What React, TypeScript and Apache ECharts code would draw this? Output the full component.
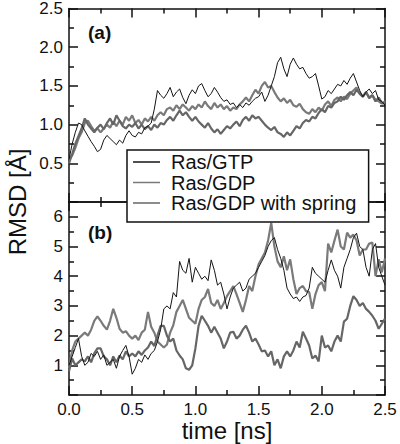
import React, { useEffect, useRef } from "react";
import * as echarts from "echarts";

// sampling step of the trajectories (ns)
const DT = 0.025;

// Panel (a) RMSD [Å]
const gtpA = [
  0.55, 0.75, 0.9, 1.02, 1.0, 0.92, 0.85, 0.78, 0.72, 0.65,
  0.68, 0.8, 0.86, 0.82, 0.78, 0.74, 0.8, 0.76, 0.86, 0.92,
  0.86, 0.84, 0.9, 0.88, 0.96, 0.98, 1.02, 1.2, 1.44, 1.38,
  1.34, 1.4, 1.48, 1.36, 1.42, 1.46, 1.35, 1.27, 1.38, 1.45,
  1.4, 1.5, 1.53, 1.44, 1.36, 1.4, 1.48, 1.42, 1.35, 1.3,
  1.32, 1.26, 1.28, 1.22, 1.26, 1.22, 1.28, 1.25, 1.3, 1.34,
  1.36, 1.42, 1.3, 1.38, 1.5, 1.62, 1.8, 1.87, 1.72, 1.62,
  1.78, 1.86, 1.78, 1.72, 1.74, 1.66, 1.6, 1.62, 1.66, 1.5,
  1.33, 1.36, 1.44, 1.4, 1.46, 1.52, 1.5, 1.57, 1.52, 1.6,
  1.66, 1.55, 1.44, 1.36, 1.42, 1.46, 1.4, 1.44, 1.32, 1.3,
  1.25,
];
const gdpA = [
  0.55, 0.6, 0.7, 0.82, 0.9, 1.02, 1.05, 0.98, 0.92, 0.95,
  0.9, 0.95, 1.0, 0.96, 1.04, 0.98, 1.05, 1.0, 1.1, 1.05,
  1.12, 1.02, 1.06, 1.0, 1.08, 1.04, 1.1, 1.05, 1.12, 1.16,
  1.12, 1.2, 1.22, 1.18, 1.25, 1.2, 1.26, 1.22, 1.18, 1.24,
  1.2, 1.26, 1.22, 1.3, 1.24, 1.2, 1.28, 1.22, 1.26, 1.2,
  1.24, 1.18, 1.22, 1.2, 1.26, 1.3, 1.35, 1.3, 1.38, 1.45,
  1.4, 1.5, 1.55, 1.48, 1.5, 1.42, 1.35, 1.3, 1.34, 1.28,
  1.32, 1.25, 1.23, 1.27, 1.2, 1.16, 1.14, 1.2, 1.16, 1.22,
  1.18, 1.26, 1.3, 1.24, 1.32, 1.35, 1.3, 1.36, 1.33, 1.4,
  1.44, 1.48, 1.4, 1.36, 1.42, 1.35, 1.38, 1.32, 1.3, 1.27,
  1.3,
];
const springA = [
  0.5, 0.62, 0.75, 0.85, 0.95, 1.08, 1.0, 0.95, 0.9, 0.96,
  1.0, 0.94, 1.02, 1.08, 1.0, 1.12, 1.05, 0.98, 0.95, 1.0,
  0.97, 1.02, 0.95, 1.0, 0.94, 0.98, 0.93, 1.0, 0.96, 1.02,
  1.0, 1.06, 1.1, 1.05, 1.12, 1.18, 1.12, 1.16, 1.1, 1.05,
  1.1, 1.04, 1.0, 0.96, 1.02, 0.95, 0.9, 0.94, 0.88, 0.93,
  0.98, 0.95, 1.0, 1.04, 0.98, 1.06, 1.1, 1.05, 1.12, 1.08,
  1.1, 1.05, 1.0, 0.96, 0.93, 0.97, 0.9, 0.88, 0.84, 0.9,
  0.86, 0.92, 0.98, 0.95, 1.02, 1.06, 1.04, 1.1, 1.08, 1.15,
  1.2, 1.16, 1.24, 1.22, 1.28, 1.3, 1.36, 1.32, 1.38, 1.42,
  1.38, 1.45, 1.4, 1.36, 1.42, 1.34, 1.38, 1.3, 1.35, 1.28,
  1.27,
];

// Panel (b) RMSD [Å]
const gtpB = [
  1.0, 1.3, 1.6, 1.9, 1.3, 1.0, 1.1, 1.4, 1.3, 1.47,
  1.2, 1.35, 1.0, 1.1, 1.2, 0.9, 1.3, 1.5, 1.67, 1.3,
  0.7, 0.9, 1.2, 1.1, 1.35, 1.2, 1.4, 1.5, 1.8, 2.2,
  2.9, 3.0, 2.9, 3.45, 3.3, 4.5, 4.2, 4.1, 4.6, 3.8,
  4.3, 4.1, 3.9, 4.0, 3.85, 4.55, 4.2, 3.7, 3.8, 3.4,
  2.9, 3.3, 3.6, 3.7, 3.8, 3.5, 3.6, 3.9, 4.0, 4.1,
  4.3, 4.5, 4.7, 5.0, 5.2, 5.3, 4.9, 4.6, 4.2, 3.6,
  3.4, 3.25, 3.3, 3.15, 3.3, 3.35, 3.6, 4.3, 4.1, 4.0,
  3.9, 3.8, 4.2, 4.55, 4.2, 4.0, 3.6, 4.3, 4.6, 4.9,
  5.3, 5.45, 5.0, 4.9, 4.3, 4.0, 4.9, 5.1, 4.3, 4.0,
  3.7,
];
const gdpB = [
  0.9, 1.5, 1.8, 1.9, 2.0, 2.1, 2.0, 2.2, 2.5, 2.65,
  2.5, 2.33, 2.2, 2.5, 2.9, 2.6, 2.23, 2.1, 2.15, 2.0,
  1.9, 2.0, 1.85, 2.1, 2.2, 2.8, 2.3, 2.1, 1.8, 1.7,
  1.6, 1.7, 2.1, 2.35, 2.8, 3.0, 3.2, 2.9, 2.6, 2.5,
  2.4, 2.9, 3.2, 3.3, 3.57, 3.1, 3.0, 3.2, 2.9, 3.1,
  3.33, 3.5, 3.67, 3.4, 3.1, 2.8, 3.2, 3.67, 3.5, 4.0,
  4.4, 4.6, 4.8, 5.2, 5.8, 5.0, 4.5, 4.3, 4.67, 4.2,
  4.57, 3.9, 3.4, 3.6, 3.67, 3.5, 3.47, 2.9, 3.4, 3.7,
  3.8, 3.5, 5.1, 4.8, 5.2, 5.57, 5.0, 4.9, 5.47, 5.3,
  5.4, 5.2, 4.7, 4.9, 4.9, 5.1, 5.13, 4.0, 4.57, 4.13,
  4.6,
];
const springB = [
  0.8, 1.23, 1.0, 1.1, 1.2, 1.13, 1.3, 1.1, 1.4, 1.57,
  1.57, 1.3, 1.2, 1.0, 1.3, 1.1, 1.33, 1.2, 1.47, 1.3,
  1.4, 1.3, 1.47, 1.35, 1.5, 1.6, 1.8, 1.65, 2.0, 2.33,
  2.33, 2.0, 1.8, 1.9, 1.5, 1.33, 1.2, 0.9, 0.85, 1.0,
  1.57, 2.33, 2.67, 2.5, 2.33, 2.1, 2.3, 2.1, 1.9, 1.57,
  1.8, 2.1, 2.13, 1.9, 2.0, 2.2, 2.33, 2.1, 1.8, 1.9,
  1.7, 1.47, 1.5, 1.3, 1.47, 1.0, 1.2, 0.9, 1.3, 1.47,
  1.3, 1.5, 1.8, 1.6, 2.13, 1.9, 1.67, 1.23, 1.33, 1.13,
  2.0, 1.6, 1.67, 1.47, 1.8, 2.0, 1.8, 2.47, 2.57, 3.0,
  3.33, 3.2, 3.0, 3.1, 2.9, 2.8, 2.67, 2.5, 2.23, 2.4,
  2.57,
];

const SERIES_NAMES = ["Ras/GTP", "Ras/GDP", "Ras/GDP with spring"];
const X_TICKS = [0, 0.5, 1.0, 1.5, 2.0, 2.5];

const FONT = "'Liberation Sans', Arial, Helvetica, sans-serif";
const INK = "#111";
const COL_GTP = "#141414";
const COL_GDP = "#7a7a7a";
const COL_SPRING = "#666666";

const pairs = (vals: number[]) => vals.map((v, i) => [+(i * DT).toFixed(3), v]);

export default function App() {
  const ref = useRef<HTMLDivElement>(null);
  useEffect(() => {
    if (!ref.current) return;
    const chart = echarts.init(ref.current, undefined, { renderer: "svg" });
    const axisLine = { show: true, onZero: false, lineStyle: { color: INK, width: 1.5 } };
    const tick = { show: true, inside: true, length: 9, lineStyle: { color: INK, width: 1.5 } };
    const minor = { show: true, splitNumber: 2, length: 5, lineStyle: { color: INK, width: 1.5 } };
    const xBase = {
      type: "value" as const,
      min: X_TICKS[0],
      max: X_TICKS[X_TICKS.length - 1],
      interval: 0.5,
      axisLine,
      axisTick: tick,
      minorTick: minor,
      splitLine: { show: false },
    };
    const yBase = (max: number, interval: number) => ({
      type: "value" as const,
      min: 0,
      max,
      interval,
      axisLine,
      axisTick: tick,
      minorTick: minor,
      splitLine: { show: false },
    });
    const tickLabel = { fontSize: 17, fontFamily: FONT, color: INK };
    const mk = (name: string, data: number[], gi: number, color: string, width: number, z: number) => ({
      name,
      type: "line",
      xAxisIndex: gi === 0 ? 0 : 2,
      yAxisIndex: gi === 0 ? 0 : 2,
      data: pairs(data),
      symbol: "none",
      z,
      lineStyle: { color, width },
      itemStyle: { color },
    });

    chart.setOption({
      animation: false,
      backgroundColor: "#fff",
      grid: [
        { left: 69, top: 8, width: 316, height: 194 },
        { left: 69, top: 202, width: 316, height: 193 },
      ],
      xAxis: [
        { ...xBase, gridIndex: 0, position: "bottom", axisLabel: { show: false } },
        { ...xBase, gridIndex: 0, position: "top", axisLabel: { show: false } },
        {
          ...xBase,
          gridIndex: 1,
          position: "bottom",
          axisLabel: { ...tickLabel, margin: 6, formatter: (v: number) => v.toFixed(1) },
          name: "time [ns]",
          nameLocation: "middle",
          nameGap: 23,
          nameTextStyle: { fontSize: 24, fontFamily: FONT, color: INK },
        },
        { ...xBase, gridIndex: 1, position: "top", axisLabel: { show: false } },
      ],
      yAxis: [
        {
          ...yBase(2.5, 0.5),
          gridIndex: 0,
          position: "left",
          axisLabel: { ...tickLabel, margin: 6, formatter: (v: number) => (v === 0 ? "" : v.toFixed(1)) },
        },
        { ...yBase(2.5, 0.5), gridIndex: 0, position: "right", axisLabel: { show: false } },
        {
          ...yBase(6.5, 1),
          gridIndex: 1,
          position: "left",
          axisLabel: {
            ...tickLabel,
            margin: 6,
            formatter: (v: number) => (v === 0 || !Number.isInteger(v) ? "" : String(v)),
          },
        },
        { ...yBase(6.5, 1), gridIndex: 1, position: "right", axisLabel: { show: false } },
      ],
      legend: {
        data: SERIES_NAMES,
        orient: "vertical",
        left: 127,
        top: 150,
        padding: [2, 12, 9, 6],
        itemGap: 0.5,
        itemWidth: 27,
        itemHeight: 1.5,
        icon: "rect",
        backgroundColor: "#fff",
        borderColor: INK,
        borderWidth: 1.5,
        borderRadius: 0,
        z: 10,
        textStyle: { fontSize: 20, fontFamily: FONT, color: INK, padding: [0, 0, 0, 6] },
      },
      graphic: [
        {
          type: "text",
          x: 17,
          y: 202,
          rotation: Math.PI / 2,
          style: {
            text: "RMSD [Å]",
            font: `24px ${FONT}`,
            fill: INK,
            align: "center",
            verticalAlign: "middle",
          },
        },
        {
          type: "text",
          x: 88,
          y: 32,
          style: { text: "(a)", font: `bold 19px ${FONT}`, fill: INK, align: "left", verticalAlign: "middle" },
        },
        {
          type: "text",
          x: 88,
          y: 232,
          style: { text: "(b)", font: `bold 19px ${FONT}`, fill: INK, align: "left", verticalAlign: "middle" },
        },
      ],
      series: [
        mk(SERIES_NAMES[1], gdpA, 0, COL_GDP, 2.2, 2),
        mk(SERIES_NAMES[2], springA, 0, COL_SPRING, 2.2, 2),
        mk(SERIES_NAMES[0], gtpA, 0, COL_GTP, 1, 3),
        mk(SERIES_NAMES[1], gdpB, 1, COL_GDP, 2.2, 2),
        mk(SERIES_NAMES[2], springB, 1, COL_SPRING, 2.2, 2),
        mk(SERIES_NAMES[0], gtpB, 1, COL_GTP, 1, 3),
      ],
    });
    return () => chart.dispose();
  }, []);
  return (
    <div
      ref={ref}
      style={{ position: "fixed", left: 0, top: 0, width: 400, height: 444, background: "#fff" }}
    />
  );
}
